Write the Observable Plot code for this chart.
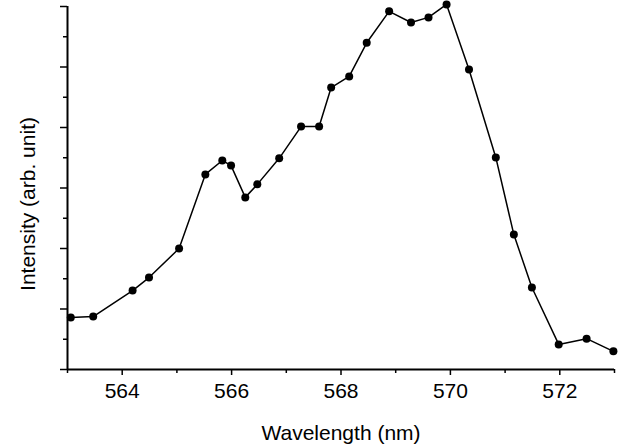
<!DOCTYPE html>
<html>
<head>
<meta charset="utf-8">
<script src="https://cdn.jsdelivr.net/npm/d3@7"></script>
<script src="https://cdn.jsdelivr.net/npm/@observablehq/plot@0.6"></script>
<style>
  body { margin: 0; background: #fff; }
  #chart svg { display: block; font-family: "Liberation Sans", Arial, sans-serif; }
</style>
</head>
<body>
<div id="chart"></div>
<script>
const wavelength = [563.06, 563.47, 564.19, 564.49, 565.04, 565.52, 565.83, 565.99, 566.25, 566.47, 566.87, 567.27, 567.6, 567.82, 568.15, 568.47, 568.88, 569.28, 569.6, 569.93, 570.34, 570.83, 571.16, 571.49, 571.98, 572.49, 572.98];
const intensity = [1.72, 1.75, 2.61, 3.04, 4.0, 6.45, 6.91, 6.74, 5.69, 6.12, 6.98, 8.03, 8.03, 9.32, 9.69, 10.8, 11.84, 11.47, 11.64, 12.07, 9.92, 7.01, 4.46, 2.71, 0.83, 1.02, 0.6];
const xMajorTicks = [564, 566, 568, 570, 572];
const xMinorTicks = [563, 565, 567, 569, 571, 573];
const yMajorTicks = [0, 2, 4, 6, 8, 10, 12];
const yMinorTicks = [1, 3, 5, 7, 9, 11];
const xLabel = "Wavelength (nm)";
const yLabel = "Intensity (arb. unit)";

const data = wavelength.map((w, i) => ({w, v: intensity[i]}));

const chart = Plot.plot({
  width: 622,
  height: 445,
  marginLeft: 67,
  marginRight: 8,
  marginTop: 6,
  marginBottom: 76,
  style: {fontFamily: "'Liberation Sans', Arial, sans-serif", background: "#fff", color: "#000"},
  x: {domain: [563, 573]},
  y: {domain: [0, 12]},
  marks: [
    Plot.axisX(xMajorTicks, {tickSize: 6, tickPadding: 8, fontSize: 21, strokeWidth: 1.5, tickFormat: d => String(d), label: null}),
    Plot.axisX(xMinorTicks, {tickSize: 4, strokeWidth: 1.5, tickFormat: () => "", label: null}),
    Plot.axisY(yMajorTicks, {tickSize: 7, strokeWidth: 1.5, tickFormat: () => "", label: null}),
    Plot.axisY(yMinorTicks, {tickSize: 4, strokeWidth: 1.5, tickFormat: () => "", label: null}),
    Plot.ruleY([0], {strokeWidth: 2}),
    Plot.ruleX([563], {strokeWidth: 2}),
    Plot.line(data, {x: "w", y: "v", stroke: "#000", strokeWidth: 1.5}),
    Plot.dot(data, {x: "w", y: "v", r: 4, fill: "#000", stroke: "none"}),
    Plot.text([xLabel], {frameAnchor: "bottom", lineAnchor: "middle", dy: 64, fontSize: 21, fill: "#000"}),
    Plot.text([yLabel], {frameAnchor: "left", rotate: -90, dx: -39, dy: 16, fontSize: 21, fill: "#000", textAnchor: "middle"})
  ]
});
document.getElementById("chart").appendChild(chart);
</script>
</body>
</html>
